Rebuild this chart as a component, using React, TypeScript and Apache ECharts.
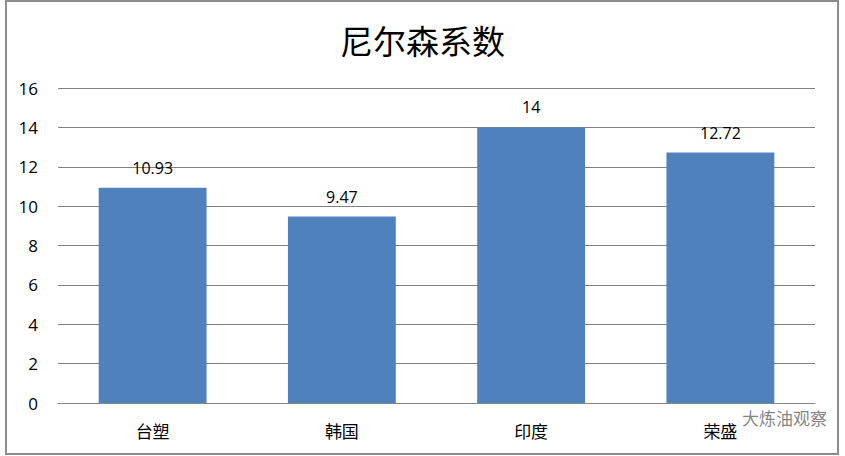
import * as echarts from 'echarts';
import { useEffect, useRef } from 'react';

const title = '尼尔森系数';
const categories = ['台塑', '韩国', '印度', '荣盛'];
const values = [10.93, 9.47, 14, 12.72];
const watermark = '大炼油观察';

export default function App() {
  const chartRef = useRef<HTMLDivElement>(null);

  useEffect(() => {
    if (!chartRef.current) return;
    const chart = echarts.init(chartRef.current, undefined, { renderer: 'svg' });

    const option: echarts.EChartsOption = {
      animation: false,
      backgroundColor: '#ffffff',
      title: {
        text: title,
        left: 'center',
        top: 18,
        textStyle: {
          fontFamily: '"Noto Sans CJK SC", sans-serif',
          fontSize: 33,
          fontWeight: 'normal',
          color: '#000',
        },
      },
      grid: { left: 58, right: 30, top: 88, bottom: 53 },
      xAxis: {
        type: 'category',
        data: categories,
        axisLine: { lineStyle: { color: '#868686', width: 1 } },
        axisTick: { show: false },
        axisLabel: {
          margin: 19,
          fontSize: 17,
          color: '#000',
          fontFamily: '"Noto Sans CJK SC", serif',
        },
      },
      yAxis: {
        type: 'value',
        min: 0,
        max: 16,
        interval: 2,
        axisLine: { show: false },
        axisTick: { show: false },
        splitLine: { lineStyle: { color: '#808080', width: 1 } },
        axisLabel: {
          margin: 20,
          fontSize: 17,
          color: '#000',
          fontFamily: '"Open Sans", sans-serif',
        },
      },
      series: [
        {
          type: 'bar',
          data: values,
          barWidth: '57%',
          itemStyle: { color: '#4F81BD' },
          label: {
            show: true,
            position: 'top',
            distance: 12,
            fontSize: 16,
            color: '#000',
            fontFamily: '"Open Sans", sans-serif',
          },
        },
      ],
      graphic: [
        {
          type: 'rect',
          shape: { x: 6, y: 1, width: 832, height: 453 },
          style: { fill: 'none', stroke: '#8c8c8c', lineWidth: 2 },
          silent: true,
        },
        {
          type: 'text',
          x: 742,
          y: 409,
          style: {
            text: watermark,
            fontSize: 17,
            fill: 'rgba(90,90,90,0.75)',
            fontFamily: '"Noto Sans CJK SC", sans-serif',
          },
          silent: true,
        },
      ],
    };

    chart.setOption(option);
    return () => chart.dispose();
  }, []);

  return (
    <div
      ref={chartRef}
      style={{ position: 'fixed', left: 0, top: 0, width: 845, height: 456 }}
    />
  );
}
